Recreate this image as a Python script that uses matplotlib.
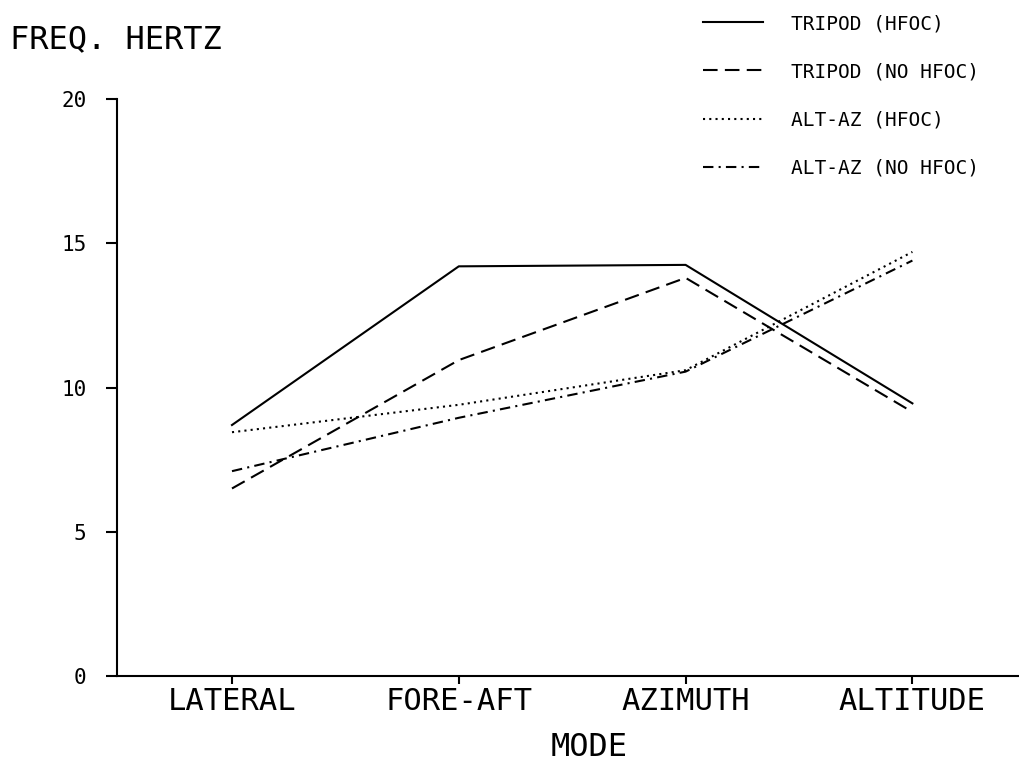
import matplotlib
matplotlib.use("Agg")
import matplotlib.pyplot as plt

modes = ["LATERAL", "FORE-AFT", "AZIMUTH", "ALTITUDE"]
tripod_hfoc = [8.7, 14.2, 14.25, 9.45]
tripod_no_hfoc = [6.5, 10.95, 13.8, 9.15]
altaz_hfoc = [8.45, 9.4, 10.6, 14.7]
altaz_no_hfoc = [7.1, 8.95, 10.55, 14.4]
series_labels = ["TRIPOD (HFOC)", "TRIPOD (NO HFOC)", "ALT-AZ (HFOC)", "ALT-AZ (NO HFOC)"]
y_ticks = [0, 5, 10, 15, 20]

plt.rcParams['font.family'] = ['DejaVu Sans Mono', 'DejaVu Sans']

fig = plt.figure(figsize=(10.19, 7.61), dpi=100)
ax = fig.add_axes([117/1019, 1 - 676/761, 1 - 117/1019, (676 - 99)/761])

x = list(range(len(modes)))
lw = 1.5
ax.plot(x, tripod_hfoc, color='black', lw=lw, linestyle='-', label=series_labels[0])
ax.plot(x, tripod_no_hfoc, color='black', lw=lw, linestyle=(0, (7, 3.5)), label=series_labels[1])
ax.plot(x, altaz_hfoc, color='black', lw=lw, linestyle=(0, (1, 2)), label=series_labels[2])
ax.plot(x, altaz_no_hfoc, color='black', lw=lw, linestyle=(0, (5, 2.5, 1, 2.5)), label=series_labels[3])

ax.set_xlim(-0.507, 3.47)
ax.set_ylim(0, 20)
ax.set_xticks(x)
ax.set_xticklabels(modes, fontsize=22)
ax.set_yticks(y_ticks)
ax.set_yticklabels([str(v) for v in y_ticks], fontsize=15)

ax.spines['top'].set_visible(False)
ax.spines['right'].set_visible(False)
ax.spines['left'].set_linewidth(1.5)
ax.spines['bottom'].set_linewidth(1.5)
ax.tick_params(axis='y', direction='out', length=8, width=1.5, pad=14)
ax.tick_params(axis='x', direction='out', length=6, width=1.5, pad=2)

fig.text(10/1019, 1 - 40/761, "FREQ. HERTZ", fontsize=23, va='center', ha='left')
fig.text(589/1019, 1 - 747/761, "MODE", fontsize=23, va='center', ha='center')

leg = fig.legend(loc='upper left', bbox_to_anchor=(703/1019, 1 - 14/761),
                 frameon=False, fontsize=14, handlelength=3.1, handletextpad=1.45,
                 labelspacing=1.5, borderpad=0, borderaxespad=0)

fig.savefig("out.png", dpi=100, facecolor='white')
